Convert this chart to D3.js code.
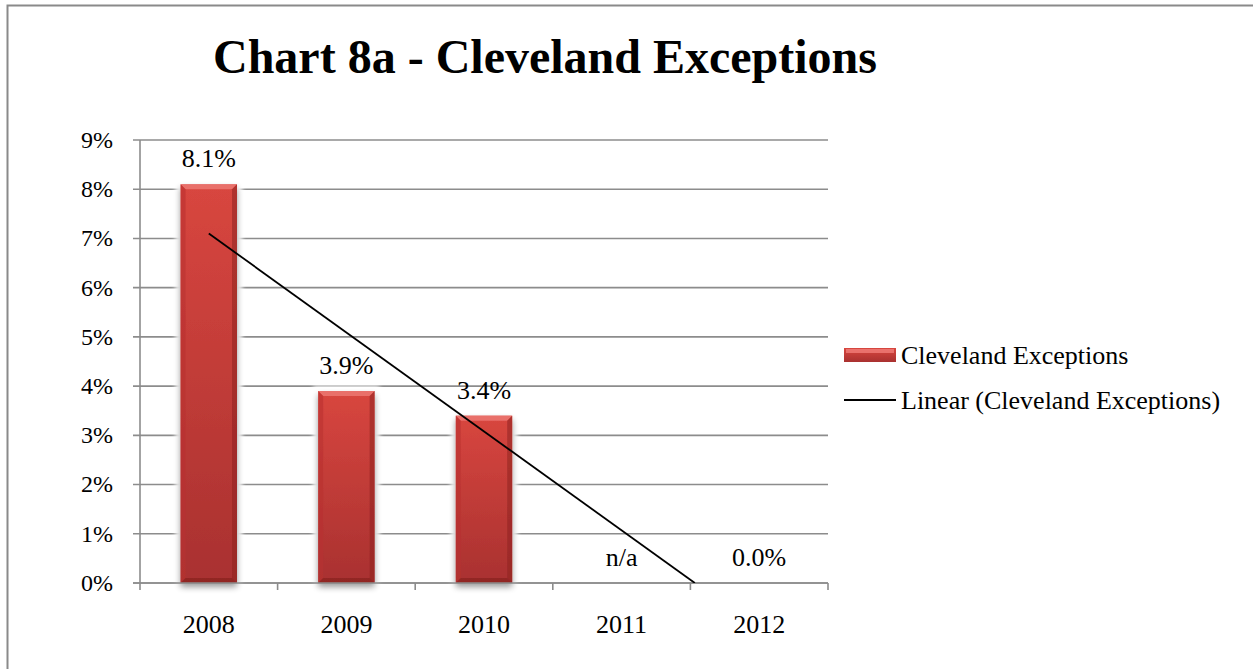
<!DOCTYPE html>
<html>
<head>
<meta charset="utf-8">
<script src="https://cdn.jsdelivr.net/npm/d3@7"></script>
<style>
  html, body { margin: 0; padding: 0; background: #fff; }
  svg { display: block; font-family: "Liberation Serif", "Times New Roman", serif; }
</style>
</head>
<body>
<svg id="chart" width="1253" height="669"></svg>
<script>
// Chart data
const years = ["2008", "2009", "2010", "2011", "2012"];
const exceptionRates = [8.1, 3.9, 3.4, null, 0.0];   // percent; null = not available
const rateLabels = ["8.1%", "3.9%", "3.4%", "n/a", "0.0%"];
const yTicks = [0, 1, 2, 3, 4, 5, 6, 7, 8, 9];
const chartTitle = "Chart 8a - Cleveland Exceptions";
const seriesName = "Cleveland Exceptions";
const trendName = "Linear (Cleveland Exceptions)";

const svg = d3.select("#chart");
const margin = { left: 140, right: 828, top: 140, bottom: 583 };

// Outer frame
svg.append("path")
  .attr("d", "M7.5,669 L7.5,5.5 L1253,5.5")
  .attr("fill", "none").attr("stroke", "#8a8a8a").attr("stroke-width", 2);

// Title
svg.append("text")
  .attr("x", 545).attr("y", 73)
  .attr("text-anchor", "middle")
  .attr("font-size", 48).attr("font-weight", "bold")
  .text(chartTitle);

const x = d3.scaleBand().domain(years).range([margin.left, margin.right])
  .paddingInner(0.59).paddingOuter(0.295);
const xOuter = d3.scaleBand().domain(years).range([margin.left, margin.right]);
const y = d3.scaleLinear().domain([0, 9]).range([margin.bottom, margin.top]);

const defs = svg.append("defs");
const grad = defs.append("linearGradient").attr("id", "barFill")
  .attr("x1", 0).attr("y1", 0).attr("x2", 0).attr("y2", 1);
grad.append("stop").attr("offset", "0%").attr("stop-color", "#d8463f");
grad.append("stop").attr("offset", "100%").attr("stop-color", "#a93130");
const shadow = defs.append("filter").attr("id", "barShadow")
  .attr("x", "-30%").attr("y", "-10%").attr("width", "160%").attr("height", "130%");
shadow.append("feGaussianBlur").attr("in", "SourceAlpha").attr("stdDeviation", 3).attr("result", "b");
shadow.append("feOffset").attr("in", "b").attr("dx", 0).attr("dy", 4).attr("result", "o");
shadow.append("feComponentTransfer").attr("in", "o").attr("result", "s")
  .append("feFuncA").attr("type", "linear").attr("slope", 0.4);
const merge = shadow.append("feMerge");
merge.append("feMergeNode").attr("in", "s");
merge.append("feMergeNode").attr("in", "SourceGraphic");
const halo = defs.append("filter").attr("id", "halo")
  .attr("x", "-40%").attr("y", "-10%").attr("width", "180%").attr("height", "120%");
halo.append("feMorphology").attr("in", "SourceAlpha").attr("operator", "dilate").attr("radius", 5).attr("result", "d");
halo.append("feGaussianBlur").attr("in", "d").attr("stdDeviation", 2).attr("result", "hb");
halo.append("feFlood").attr("flood-color", "#fff").attr("result", "w");
halo.append("feComposite").attr("in", "w").attr("in2", "hb").attr("operator", "in");

// Gridlines and y ticks
const grid = svg.append("g");
grid.selectAll("line.grid").data(yTicks).join("line")
  .attr("x1", margin.left - 7).attr("x2", margin.right)
  .attr("y1", d => y(d)).attr("y2", d => y(d))
  .attr("stroke", "#8c8c8c").attr("stroke-width", 1.6);
grid.selectAll("text").data(yTicks).join("text")
  .attr("x", 113).attr("y", d => y(d)).attr("dy", "0.33em")
  .attr("text-anchor", "end").attr("font-size", 24)
  .text(d => d + "%");

// Y axis line
svg.append("line")
  .attr("x1", margin.left).attr("x2", margin.left)
  .attr("y1", margin.top).attr("y2", margin.bottom)
  .attr("stroke", "#8c8c8c").attr("stroke-width", 1.6);

// X axis ticks and labels
const xTickPos = years.map(d => xOuter(d)).concat([margin.right]);
svg.selectAll("line.xtick").data(xTickPos).join("line")
  .attr("x1", d => d).attr("x2", d => d)
  .attr("y1", margin.bottom).attr("y2", margin.bottom + 7)
  .attr("stroke", "#8c8c8c").attr("stroke-width", 1.6);
svg.selectAll("text.xlab").data(years).join("text")
  .attr("x", d => xOuter(d) + xOuter.bandwidth() / 2).attr("y", 633)
  .attr("text-anchor", "middle").attr("font-size", 26)
  .text(d => d);

// Bars with bevelled edges
const barData = years.map((yr, i) => ({ yr, v: exceptionRates[i], label: rateLabels[i] }))
  .filter(d => d.v !== null && d.v > 0);
// soft light halo around each bar that interrupts the gridlines
svg.append("g").attr("filter", "url(#halo)").selectAll("rect").data(barData).join("rect")
  .attr("x", d => x(d.yr)).attr("y", d => y(d.v))
  .attr("width", x.bandwidth()).attr("height", d => y(0) - y(d.v) - 3)
  .attr("fill", "#000");
const bars = svg.append("g").selectAll("g").data(barData).join("g")
  .attr("filter", "url(#barShadow)");
bars.append("rect")
  .attr("x", d => x(d.yr)).attr("y", d => y(d.v))
  .attr("width", x.bandwidth()).attr("height", d => y(0) - y(d.v))
  .attr("fill", "url(#barFill)");
const bev = 5;
// top bevel highlight
bars.append("path")
  .attr("d", d => {
    const x0 = x(d.yr), x1 = x0 + x.bandwidth(), t = y(d.v);
    return `M${x0},${t}L${x1},${t}L${x1 - bev},${t + bev}L${x0 + bev},${t + bev}Z`;
  })
  .attr("fill", "#ee7a75").attr("opacity", 0.8);
// left and right bevels
bars.append("path")
  .attr("d", d => {
    const x0 = x(d.yr), t = y(d.v), b = y(0);
    return `M${x0},${t}L${x0 + bev},${t + bev}L${x0 + bev},${b - bev}L${x0},${b}Z`;
  })
  .attr("fill", "#b8302f").attr("opacity", 0.55);
bars.append("path")
  .attr("d", d => {
    const x1 = x(d.yr) + x.bandwidth(), t = y(d.v), b = y(0);
    return `M${x1},${t}L${x1 - bev},${t + bev}L${x1 - bev},${b - bev}L${x1},${b}Z`;
  })
  .attr("fill", "#8e2221").attr("opacity", 0.55);
bars.append("path")
  .attr("d", d => {
    const x0 = x(d.yr), x1 = x0 + x.bandwidth(), b = y(0);
    return `M${x0},${b}L${x0 + bev},${b - bev}L${x1 - bev},${b - bev}L${x1},${b}Z`;
  })
  .attr("fill", "#7e1d1c").attr("opacity", 0.55);

// Redraw base axis line over bars
svg.append("line")
  .attr("x1", margin.left - 7).attr("x2", margin.right)
  .attr("y1", margin.bottom).attr("y2", margin.bottom)
  .attr("stroke", "#8c8c8c").attr("stroke-width", 1.6);

// Data labels
svg.selectAll("text.dl").data(years.map((yr, i) => ({ yr, v: exceptionRates[i], label: rateLabels[i] })))
  .join("text")
  .attr("x", d => xOuter(d.yr) + xOuter.bandwidth() / 2)
  .attr("y", d => y(d.v === null ? 0 : d.v) - 17)
  .attr("text-anchor", "middle").attr("font-size", 26)
  .text(d => d.label);

// Linear trendline (least squares over category index; missing year counted as zero)
const pts = exceptionRates.map((v, i) => [i + 1, v === null ? 0 : v]);
const n = pts.length;
const mx = d3.mean(pts, p => p[0]), my = d3.mean(pts, p => p[1]);
const slope = d3.sum(pts, p => (p[0] - mx) * (p[1] - my)) / d3.sum(pts, p => (p[0] - mx) ** 2);
const icpt = my - slope * mx;
const xi = i => xOuter(years[0]) + xOuter.bandwidth() * (i - 0.5);
const xEnd = Math.min(n, -icpt / slope);
defs.append("clipPath").attr("id", "plotClip").append("rect")
  .attr("x", margin.left).attr("y", margin.top)
  .attr("width", margin.right - margin.left).attr("height", margin.bottom - margin.top);
svg.append("line")
  .attr("clip-path", "url(#plotClip)")
  .attr("x1", xi(1)).attr("y1", y(icpt + slope))
  .attr("x2", xi(xEnd)).attr("y2", y(icpt + slope * xEnd))
  .attr("stroke", "#000").attr("stroke-width", 1.8);

// Legend
const lg = svg.append("g");
lg.append("rect").attr("x", 844).attr("y", 348).attr("width", 52).attr("height", 14)
  .attr("fill", "url(#barFill)");
lg.append("rect").attr("x", 846).attr("y", 349).attr("width", 48).attr("height", 4)
  .attr("fill", "#ee7a75").attr("opacity", 0.85);
lg.append("text").attr("x", 901).attr("y", 364).attr("font-size", 26).text(seriesName);
lg.append("line").attr("x1", 844).attr("x2", 896).attr("y1", 400).attr("y2", 400)
  .attr("stroke", "#000").attr("stroke-width", 1.8);
lg.append("text").attr("x", 901).attr("y", 409).attr("font-size", 26).text(trendName);
</script>
</body>
</html>
